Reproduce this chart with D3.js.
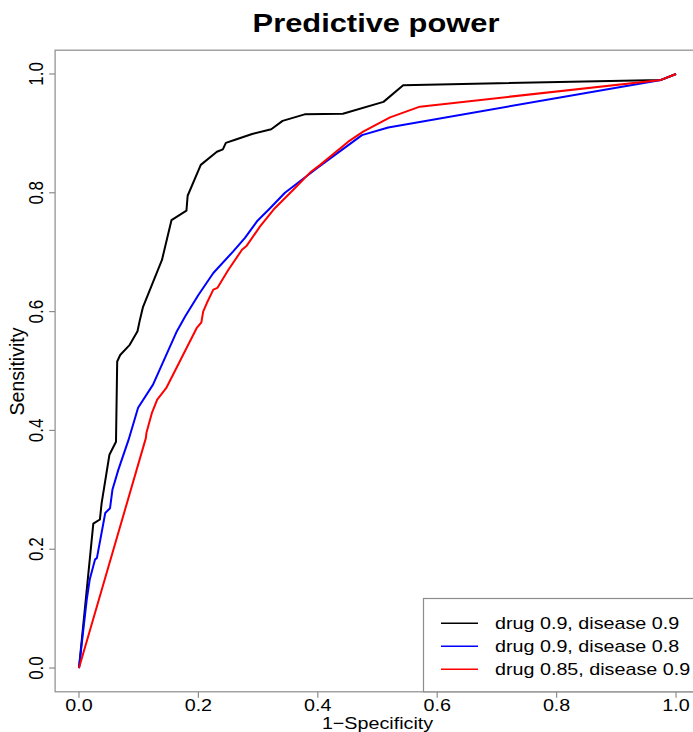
<!DOCTYPE html>
<html lang="en">
  <head>
  <meta charset="utf-8"/>
    <script type="text/javascript" src="https://cdnjs.cloudflare.com/ajax/libs/d3/7.8.5/d3.min.js"></script>
    <style>
      body { margin: 0; background: #fff; }
      text { font-family: "Liberation Sans", Arial, sans-serif; }
    </style>
  </head>
  <body>
<svg class="fillmeup"></svg>
    <script type="text/javascript">

// ROC curves: 1-specificity (fpr) and sensitivity (tpr)
var fprBlack = [0, 0.024, 0.035, 0.038, 0.051, 0.062, 0.064, 0.069, 0.085, 0.098, 0.102, 0.107, 0.139, 0.155, 0.180, 0.182, 0.204, 0.231, 0.241, 0.246, 0.264, 0.290, 0.322, 0.341, 0.378, 0.442, 0.510, 0.543, 0.975, 1];
var tprBlack = [0, 0.243, 0.250, 0.278, 0.359, 0.381, 0.516, 0.527, 0.544, 0.567, 0.586, 0.607, 0.687, 0.754, 0.770, 0.795, 0.847, 0.869, 0.873, 0.884, 0.890, 0.899, 0.907, 0.921, 0.932, 0.933, 0.953, 0.981, 0.990, 1];

var fprBlue = [0, 0.013, 0.018, 0.027, 0.030, 0.044, 0.052, 0.056, 0.066, 0.083, 0.099, 0.124, 0.164, 0.178, 0.200, 0.225, 0.258, 0.278, 0.299, 0.320, 0.345, 0.398, 0.474, 0.518, 0.975, 1];
var tprBlue = [0, 0.115, 0.149, 0.183, 0.185, 0.261, 0.269, 0.300, 0.334, 0.384, 0.438, 0.477, 0.567, 0.592, 0.628, 0.665, 0.701, 0.724, 0.753, 0.774, 0.800, 0.841, 0.897, 0.910, 0.990, 1];

var fprRed = [0, 0.112, 0.113, 0.122, 0.124, 0.131, 0.146, 0.197, 0.205, 0.208, 0.214, 0.225, 0.232, 0.250, 0.273, 0.281, 0.303, 0.328, 0.359, 0.387, 0.404, 0.451, 0.476, 0.521, 0.571, 0.975, 1];
var tprRed = [0, 0.387, 0.396, 0.429, 0.434, 0.452, 0.471, 0.572, 0.582, 0.600, 0.614, 0.637, 0.640, 0.670, 0.704, 0.711, 0.743, 0.774, 0.805, 0.834, 0.847, 0.886, 0.903, 0.927, 0.945, 0.990, 1];

var seriesNames = ["drug 0.9, disease 0.9", "drug 0.9, disease 0.8", "drug 0.85, disease 0.9"];
var seriesColors = ["#000000", "#0000ff", "#ff0000"];
var tickValues = [0, 0.2, 0.4, 0.6, 0.8, 1.0];

var width = 693, height = 732;
var stretch = 1.16; // the picture's text is a bit wider than tall
var gray = "#8c8c8c";

var svg = d3.select('.fillmeup')
  .attr("width", width)
  .attr("height", height);

// R style: 4% padding on each side of the data range
var x = d3.scaleLinear().domain([-0.04, 1.04]).range([55.1, 699.9]);
var y = d3.scaleLinear().domain([-0.04, 1.04]).range([691.8, 50.2]);

function label(sel, tx, ty, rot) {
  return sel.append("text")
    .attr("transform", "translate(" + tx + "," + ty + ") scale(" + stretch + ",1)" + (rot ? " rotate(" + rot + ")" : ""));
}

// plot frame
svg.append("rect")
  .attr("x", x(-0.04)).attr("y", y(1.04))
  .attr("width", x(1.04) - x(-0.04)).attr("height", y(-0.04) - y(1.04))
  .attr("fill", "none").attr("stroke", gray).attr("stroke-width", 1.2);

// ticks
svg.selectAll("line.xt").data(tickValues).enter().append("line")
  .attr("x1", function(d) { return x(d); }).attr("x2", function(d) { return x(d); })
  .attr("y1", y(-0.04)).attr("y2", y(-0.04) + 6)
  .attr("stroke", gray).attr("stroke-width", 1.2);
svg.selectAll("line.yt").data(tickValues).enter().append("line")
  .attr("y1", function(d) { return y(d); }).attr("y2", function(d) { return y(d); })
  .attr("x1", x(-0.04)).attr("x2", x(-0.04) - 6)
  .attr("stroke", gray).attr("stroke-width", 1.2);

tickValues.forEach(function(d) {
  label(svg, x(d), 710.5).attr("text-anchor", "middle").attr("font-size", 17).text(d3.format(".1f")(d));
  label(svg, 42.5, y(d), -90).attr("text-anchor", "middle").attr("font-size", 17).text(d3.format(".1f")(d));
});

// axis titles and main title
label(svg, 377.5, 729).attr("text-anchor", "middle").attr("font-size", 17).text("1\u2212Specificity");
label(svg, 24, 371.5, -90).attr("text-anchor", "middle").attr("font-size", 17)
  .attr("textLength", 88).attr("lengthAdjust", "spacingAndGlyphs").text("Sensitivity");
label(svg, 376, 31.5).attr("text-anchor", "middle").attr("font-size", 26.6).attr("font-weight", "bold").text("Predictive power");

// curves
var curves = [
  { fpr: fprBlack, tpr: tprBlack },
  { fpr: fprBlue, tpr: tprBlue },
  { fpr: fprRed, tpr: tprRed }
];
var line = d3.line()
  .x(function(d) { return x(d[0]); })
  .y(function(d) { return y(d[1]); });

curves.forEach(function(c, i) {
  svg.append("path")
    .datum(d3.zip(c.fpr, c.tpr))
    .attr("d", line)
    .attr("fill", "none")
    .attr("stroke", seriesColors[i])
    .attr("stroke-width", 2)
    .attr("stroke-linejoin", "round");
});

// legend, bottom right, runs off the right edge like the frame
var legend = svg.append("g");
legend.append("rect")
  .attr("x", 423.5).attr("y", 598.5)
  .attr("width", 300).attr("height", y(-0.04) - 598.5)
  .attr("fill", "#fff").attr("stroke", gray).attr("stroke-width", 1.2);
seriesNames.forEach(function(name, i) {
  var ly = 623.3 + i * 23;
  legend.append("line")
    .attr("x1", 441).attr("x2", 478).attr("y1", ly).attr("y2", ly)
    .attr("stroke", seriesColors[i]).attr("stroke-width", 1.5);
  label(legend, 495, ly + 6).attr("font-size", 17).text(name);
});

    </script>
  </body>
</html>
